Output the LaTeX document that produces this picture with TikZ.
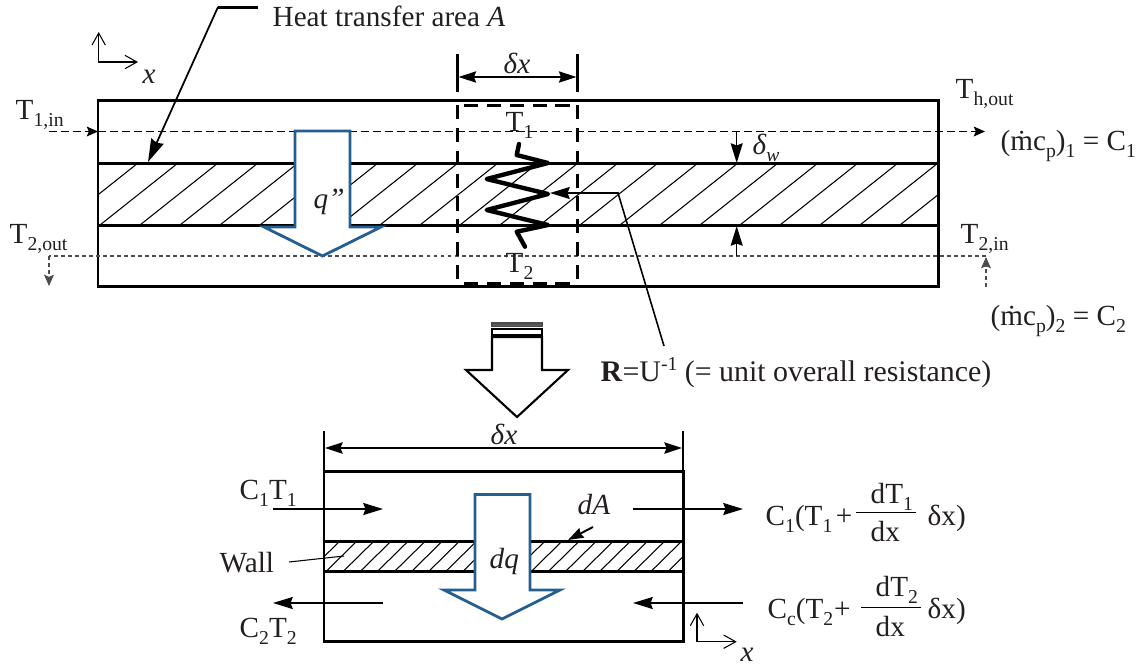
\documentclass[tikz,border=0pt]{standalone}
\usepackage{fontspec}
\setmainfont{Liberation Serif}
\usetikzlibrary{arrows.meta}
\definecolor{ink}{HTML}{231F20}
\definecolor{flux}{HTML}{255E91}
\newcommand{\dn}[1]{\raisebox{-2pt}{\fontsize{5.6}{6}\selectfont #1}}
\newcommand{\upp}[1]{\raisebox{3pt}{\fontsize{5.6}{6}\selectfont #1}}
\tikzset{
  lab/.style={anchor=base west, inner sep=0pt, text=ink, font=\fontsize{8.3}{10}\selectfont},
  wall/.style={line width=0.85pt},
  hatchline/.style={line width=0.3pt},
  fluxarrow/.style={line width=0.8pt, draw=flux, fill=white, line join=miter},
  tipbig/.style={-{Stealth[length=5.6pt, width=3.4pt, inset=0.6pt]}},
  tipboth/.style={{Stealth[length=5pt, width=3.2pt, inset=0.6pt]}-{Stealth[length=5pt, width=3.2pt, inset=0.6pt]}},
  tipsmall/.style={-{Stealth[length=3.2pt, width=2.8pt, inset=0.6pt]}},
  axis/.style={line width=0.3pt, {Straight Barb[length=3.4pt, width=3.8pt]}-{Straight Barb[length=3.4pt, width=3.8pt]}},
  dashone/.style={line width=0.3pt, dash pattern=on 2.3pt off 1.1pt},
  dashtwo/.style={line width=0.3pt, draw=black!70, dash pattern=on 1.1pt off 0.9pt},
  dashbox/.style={line width=0.85pt, dash pattern=on 4pt off 2.5pt}
}
\begin{document}
\begin{tikzpicture}[x=0.01cm, y=-0.01cm]
        \useasboundingbox (0,0) rectangle (1136,666);

        \begin{scope}
                \clip (98,163) rectangle (938,225);
                \foreach \k in {-1,...,20}
                        \draw[hatchline] ({100+40*\k},225) -- ++(78,-62);
        \end{scope}
        \draw[wall] (98,100) rectangle (938,286);
        \draw[wall] (98,163) -- (938,163);
        \draw[wall] (98,225) -- (938,225);

        \draw[dashone, tipsmall] (49,131.5) -- (98,131.5);
        \draw[dashone, tipsmall] (98,131.5) -- (985,131.5);
        \draw[dashtwo] (986,256) -- (49,256);
        \draw[dashtwo, tipsmall] (49,256) -- (49,286);
        \draw[dashtwo, tipsmall] (986,287) -- (986,257);

        \draw[fluxarrow] (295,131) -- (350,131) -- (350,227) -- (381,227) -- (322.5,256) -- (264,227) -- (295,227) -- cycle;
        \node[lab] (qflux) at (313,208) {\textit{q”}};

        \draw[dashbox] (464,105) -- (571,105);
        \draw[dashbox] (464,283.5) -- (571,283.5);
        \draw[dashbox] (457.5,105) -- (457.5,283.5);
        \draw[dashbox] (577.5,105) -- (577.5,283.5);

        \draw[line width=0.85pt] (457.5,54) -- (457.5,92);
        \draw[line width=0.85pt] (577.5,54) -- (577.5,92);
        \draw[line width=0.45pt, tipboth] (458.5,77) -- (576.5,77);
        \node[lab] (dxtop) at (503,73) {\textit{δx}};

        \draw[line width=1.25pt, line join=round, line cap=round] (519,144) -- (516.7,155) -- (548,163) -- (486.7,179) -- (548,194) -- (486.7,210) -- (548,225) -- (516.7,231.7) -- (525,246.7);

        \node[lab] (tone) at (505,131.6) {T\dn{1}};
        \node[lab] (ttwo) at (505,272.7) {T\dn{2}};

        \draw[line width=0.45pt, tipbig] (736.7,131.5) -- (736.7,163);
        \draw[line width=0.45pt, tipbig] (736.7,256) -- (736.7,226);
        \node[lab] (dwall) at (752,154) {\textit{δ\dn{w}}};

        \coordinate (rbend) at (618,193);
        \coordinate (rfoot) at (664,346);
        \draw[line width=0.45pt, tipbig] (rfoot) -- (rbend) -- (550,193);
        \node[lab, font=\fontsize{8.5}{10}\selectfont] (rnote) at (600,381) {\textbf{R}=U\upp{-1} (= unit overall resistance)};

        \coordinate (abend) at (218,7);
        \draw[line width=0.85pt] (258,7) -- (abend);
        \draw[line width=0.5pt, -{Stealth[length=6.5pt, width=3.8pt, inset=0.5pt]}] (abend) -- (148,162);
        \node[lab] (area) at (272,26) {Heat transfer area \textit{A}};

        \draw[axis] (98.7,32) -- (98.7,62) -- (138,62);
        \node[lab] (xtop) at (142,83) {\textit{x}};

        \node[lab] (tonein) at (15,119) {T\dn{1,in}};
        \node[lab] (ttwoout) at (9,243) {T\dn{2,out}};
        \node[lab] (thout) at (955,98) {T\dn{h,out}};
        \node[lab] (ttwoin) at (960,243) {T\dn{2,in}};
        \node[lab] (capone) at (1000,150) {(\.{m}c\dn{p})\dn{1} = C\dn{1}};
        \node[lab] (captwo) at (990,325) {(\.{m}c\dn{p})\dn{2} = C\dn{2}};

        \draw[line width=0.3pt, draw=black!70, fill=black!65] (492,323) rectangle (542,326.5);
        \draw[line width=0.6pt, fill=white] (492,329) rectangle (542,335);
        \draw[line width=0.6pt, fill=white, line join=miter] (492,337) -- (542,337) -- (542,370) -- (568,370) -- (517,417) -- (466,370) -- (492,370) -- cycle;

        \begin{scope}
                \clip (324,541) rectangle (683,571.5);
                \foreach \k in {-1,...,20}
                        \draw[hatchline] ({326+17.1*\k},571.5) -- ++(31,-30.5);
        \end{scope}
        \draw[wall] (324,471) rectangle (683,641);
        \draw[wall] (324,541) -- (683,541);
        \draw[wall] (324,571.5) -- (683,571.5);

        \draw[line width=0.45pt] (324,431) -- (324,471);
        \draw[line width=0.45pt] (683,431) -- (683,471);
        \draw[line width=0.6pt, tipboth] (325,448) -- (682,448);
        \node[lab] (dxlow) at (490,444) {\textit{δx}};

        \draw[fluxarrow] (475,494.5) -- (530,494.5) -- (530,590) -- (560,590) -- (502,619) -- (444,590) -- (475,590) -- cycle;
        \node[lab] (dqflux) at (489,568) {\textit{dq}};

        \draw[line width=0.55pt, tipbig] (273,509) -- (383,509);
        \draw[line width=0.55pt, tipbig] (633,509) -- (743,509);
        \draw[line width=0.55pt, tipbig] (383,603) -- (273,603);
        \draw[line width=0.55pt, tipbig] (743,603) -- (633,603);

        \coordinate (wallend) at (344,556);
        \node[lab] (wallname) at (219,572.7) {Wall};
        \draw[line width=0.3pt] (289,562) -- (wallend);

        \node[lab] (darea) at (577,514) {\textit{dA}};
        \draw[line width=0.55pt, -{Stealth[length=4.4pt, width=3pt, inset=0.4pt]}] (593,527) -- (568,540);

        \draw[axis] (697,612.7) -- (697,641.7) -- (736.7,641.7);
        \node[lab] (xlow) at (740,661.7) {\textit{x}};

        \node[lab] (conetone) at (239,499) {C\dn{1}T\dn{1}};
        \node[lab] (ctwottwo) at (239,637) {C\dn{2}T\dn{2}};

        \node[lab] (outone) at (765,525) {C\dn{1}(T\dn{1}\kern1pt+};
        \draw[line width=0.4pt] (856,512.7) -- (916,512.7);
        \node[lab] (dtone) at (870,503) {dT\dn{1}};
        \node[lab] (dxone) at (870,541.7) {dx};
        \node[lab] (endone) at (927,525) {δx)};

        \node[lab] (outtwo) at (767,618) {C\dn{c}(T\dn{2}\kern0.2pt+};
        \draw[line width=0.4pt] (861,607.3) -- (921,607.3);
        \node[lab] (dttwo) at (875,596.7) {dT\dn{2}};
        \node[lab] (dxtwo) at (875,636) {dx};
        \node[lab] (endtwo) at (927,618) {δx)};
\end{tikzpicture}
\end{document}
